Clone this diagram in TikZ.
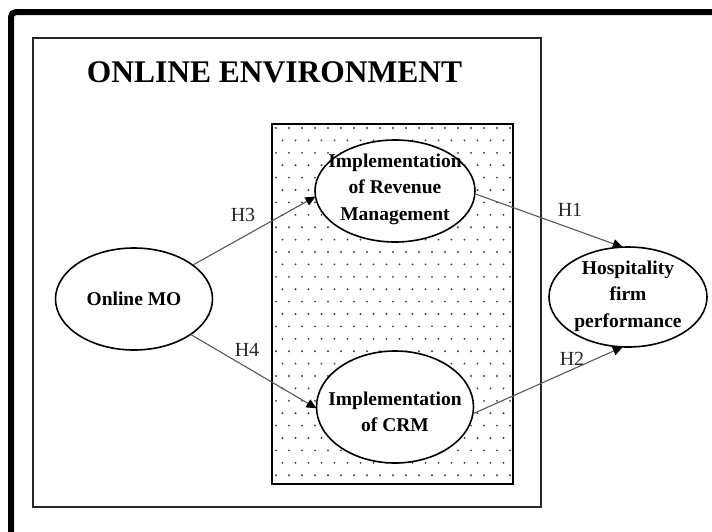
\documentclass[tikz,border=0pt]{standalone}
\usepackage{fontspec}
\setmainfont{Liberation Serif}
\usetikzlibrary{shapes.geometric,arrows.meta}
\begin{document}
\begin{tikzpicture}[x=1pt,y=-1pt,
  oval/.style={ellipse,draw=black,line width=1.6pt,fill=white,inner sep=0pt,outer sep=0pt},
  ovaltext/.style={align=center,font=\fontsize{19.5}{26.5}\selectfont\bfseries,inner sep=0pt},
  link/.style={draw=black!65,line width=1.1pt,-{Triangle[length=10pt,width=9pt,color=black]}},
  hlabel/.style={font=\fontsize{20}{22}\selectfont,text=black!85,inner sep=0pt}]
\useasboundingbox (0,0) rectangle (712,531);
\clip (0,0) rectangle (712,531);
\fill[white] (0,0) rectangle (712,531);

% heavy outer frame (top and left sides)
\draw[line width=6pt,rounded corners=5pt] (11,545) -- (11,12) -- (725,12);

% online environment box
\draw[line width=1.5pt,draw=black!85] (33,38) rectangle (541,507);
\node[font=\fontsize{31.5}{35}\selectfont\bfseries,anchor=base,inner sep=0pt] (title) at (274.5,82) {ONLINE ENVIRONMENT};

% dotted implementation area
\begin{scope}
  \clip (272,124) rectangle (513,484);
  \foreach \j in {0,...,29} {
    \foreach \i in {0,...,19} {
      \pgfmathsetmacro{\dx}{276+13*\i+6.5*mod(\j,2)}
      \pgfmathsetmacro{\dy}{128+12.4*\j}
      \fill[black!75] (\dx,\dy) circle (1.05pt);
    }
  }
\end{scope}
\draw[line width=1.8pt] (272,124) rectangle (513,484);

% constructs
\node[oval,minimum width=157pt,minimum height=102pt] (mo) at (134,299) {};
\node[ovaltext] (motxt) at (mo) {Online MO};

\node[oval,minimum width=160pt,minimum height=102pt] (rev) at (395,191) {};
\node[ovaltext] (revtxt) at (395,189) {Implementation\\of Revenue\\Management};

\node[oval,minimum width=157pt,minimum height=112pt] (crm) at (395,407) {};
\node[ovaltext] (crmtxt) at (395,412) {Implementation\\of CRM};

\node[oval,minimum width=158pt,minimum height=100pt] (hosp) at (628,297) {};
\node[ovaltext] (hosptxt) at (628,296) {Hospitality\\firm\\performance};

% hypothesised paths
\draw[link] (mo.30) -- (rev.184);
\draw[link] (mo.-32) -- (crm.181);
\draw[link] (rev.-2) -- (hosp.96);
\draw[link] (crm.-5) -- (hosp.264);

\node[hlabel] (h3) at (243,215) {H3};
\node[hlabel] (h4) at (247,350) {H4};
\node[hlabel] (h1) at (570,210) {H1};
\node[hlabel] (h2) at (572,359) {H2};
\end{tikzpicture}
\end{document}
